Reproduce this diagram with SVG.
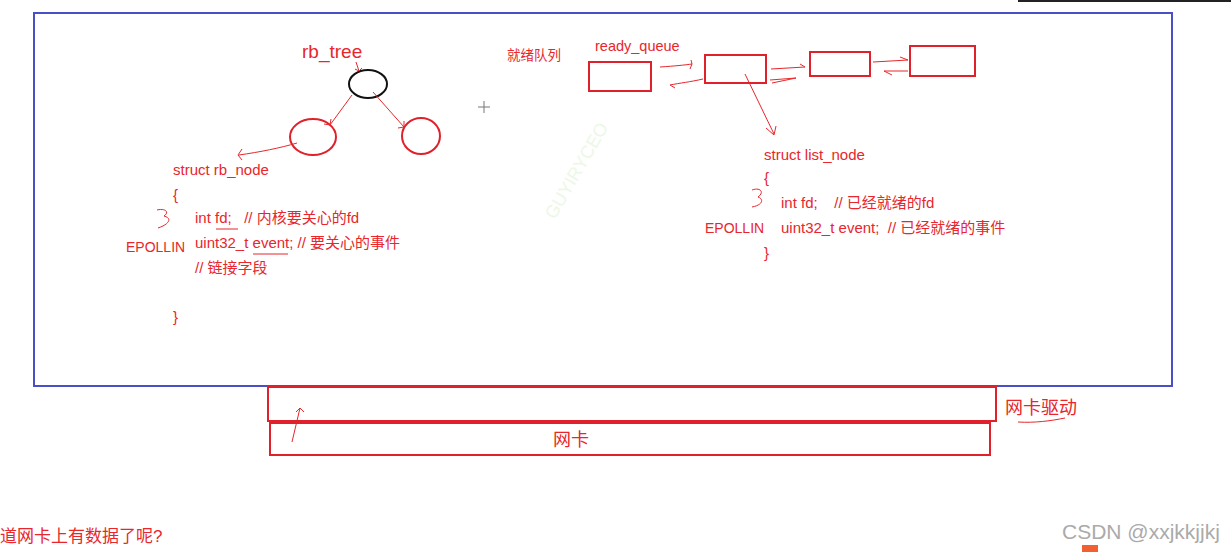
<svg xmlns="http://www.w3.org/2000/svg" width="1231" height="552" viewBox="0 0 1231 552">
<style>
.t{font-family:"Liberation Sans","Noto Sans CJK SC",sans-serif;fill:#e8262b;font-size:15px}
.ink{fill:none;stroke:#e8262b;stroke-width:1}
.box{fill:none;stroke:#e0212b;stroke-width:2}
</style>
<rect width="1231" height="552" fill="#fff"/>
<line x1="1018" y1="1" x2="1231" y2="1" stroke="#222" stroke-width="2"/>
<rect x="34" y="13" width="1138" height="373" fill="none" stroke="#4b4fc6" stroke-width="2"/>

<g id="rbtree">
<text class="t" x="302" y="58" style="font-size:19px">rb_tree</text>
<ellipse cx="368" cy="84" rx="19" ry="14" fill="none" stroke="#111" stroke-width="2"/>
<ellipse cx="313" cy="137" rx="23" ry="18" fill="none" stroke="#e0212b" stroke-width="2"/>
<ellipse cx="421" cy="136" rx="19" ry="18" fill="none" stroke="#e0212b" stroke-width="2"/>
</g>

<g id="connectors">
<path class="ink" d="M356 62 L359 71 M355 69 L359 71 L362 68"/>
<path class="ink" d="M352 95 L330 125 M324 124 L330 125 L331 119"/>
<path class="ink" d="M373 92 L404 127 M398 128 L404 127 L404 121"/>
<path class="ink" d="M297 143 C280 148 260 152 239 155 M242 149 L238 155 L242 160"/>
<path class="ink" d="M660 67 C675 66 685 65 692 64 L691 60 M692 64 L690 69"/>
<path class="ink" d="M703 79 C690 82 680 83 670 85 L675 88"/>
<path class="ink" d="M771 69 L805 67 L800 64"/>
<path class="ink" d="M770 80 L796 78 L772 83"/>
<path class="ink" d="M873 62 L908 60 L900 57"/>
<path class="ink" d="M908 71 L884 71 L892 75"/>
<path class="ink" d="M745 74 L774 134 M766 128 L774 135 L776 126"/>
<path class="ink" d="M300 408 L292 442 M296 412 L300 408 L304 412"/>
<path class="ink" d="M1018 422 C1035 423 1050 421 1065 418"/>
<path class="ink" d="M157 210 C165 208 170 212 164 216 C172 218 170 224 158 228"/>
<path class="ink" d="M752 190 C760 187 765 192 758 197 C764 199 763 205 752 207"/>
<path class="ink" d="M216 229 L238 229"/>
<path class="ink" d="M253 254 L288 254"/>
</g>

<g id="rb_node">
<text class="t" x="173" y="175">struct rb_node</text>
<text class="t" x="173" y="200">{</text>
<text class="t" x="195" y="223" xml:space="preserve">int fd;   // 内核要关心的fd</text>
<text class="t" x="126" y="252" style="font-size:14px">EPOLLIN</text>
<text class="t" x="195" y="248">uint32_t event; // 要关心的事件</text>
<text class="t" x="195" y="273">// 链接字段</text>
<text class="t" x="173" y="322">}</text>
</g>

<g id="ready_queue">
<text class="t" x="507" y="60" style="font-size:13.5px">就绪队列</text>
<text class="t" x="595" y="51" style="font-size:14.5px">ready_queue</text>
<rect class="box" x="589" y="62" width="62" height="29"/>
<rect class="box" x="705" y="55" width="61" height="28"/>
<rect class="box" x="810" y="52" width="60" height="24"/>
<rect class="box" x="910" y="46" width="65" height="30"/>
</g>

<g id="list_node">
<text class="t" x="764" y="160">struct list_node</text>
<text class="t" x="764" y="183">{</text>
<text class="t" x="781" y="208" xml:space="preserve">int fd;    // 已经就绪的fd</text>
<text class="t" x="705" y="233" style="font-size:14px">EPOLLIN</text>
<text class="t" x="781" y="233" xml:space="preserve">uint32_t event;  // 已经就绪的事件</text>
<text class="t" x="764" y="258">}</text>
</g>

<g id="cross" stroke="#777" stroke-width="1">
<line x1="478" y1="107" x2="490" y2="107"/>
<line x1="484" y1="101" x2="484" y2="113"/>
</g>

<text x="520" y="200" transform="rotate(-60 555 180)" style="font-family:'Liberation Sans',sans-serif;font-size:18px;fill:#ecf8e6">GUYIRYCEO</text>

<g id="driver">
<rect class="box" x="268" y="387" width="728" height="34"/>
<text class="t" x="1005" y="414" style="font-size:18px">网卡驱动</text>
</g>
<g id="nic">
<rect class="box" x="270" y="423" width="720" height="32"/>
<text class="t" x="571" y="446" text-anchor="middle" style="font-size:18px">网卡</text>
</g>

<text class="t" x="0" y="542" style="font-size:17px">道网卡上有数据了呢?</text>
<text x="1062" y="539" style="font-family:'Liberation Sans',sans-serif;font-size:21px;fill:#aaa">CSDN @xxjkkjjkj</text>
<rect x="1082" y="545" width="16" height="8" fill="#f06030"/>
</svg>
